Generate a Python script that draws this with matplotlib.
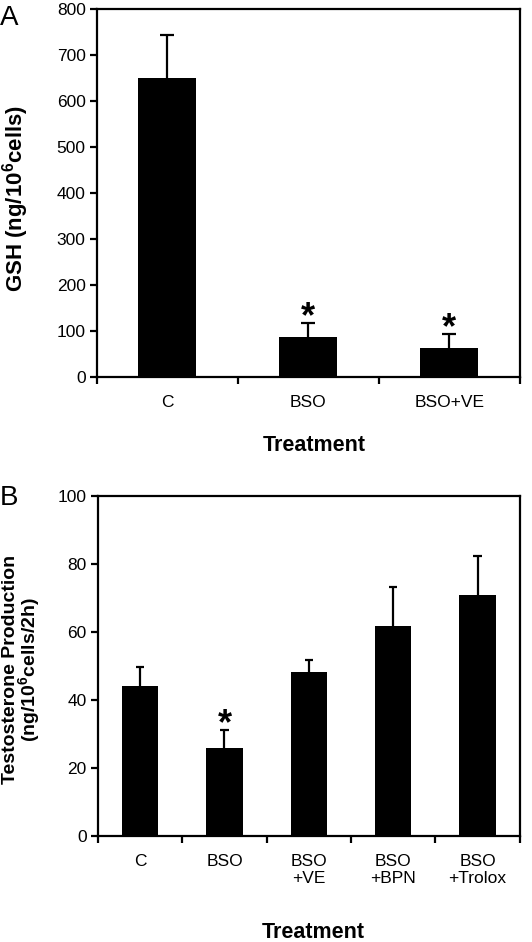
import numpy as np
import matplotlib.pyplot as plt

plt.rcParams['font.family'] = ['Liberation Sans', 'DejaVu Sans']
plt.rcParams['mathtext.fontset'] = 'custom'
plt.rcParams['mathtext.rm'] = 'Liberation Sans:bold'
plt.rcParams['mathtext.bf'] = 'Liberation Sans:bold'


# Panel A: GSH content
gsh_groups = ['C', 'BSO', 'BSO+VE']
gsh_mean = [650, 87, 63]
gsh_err = [95, 30, 30]
gsh_star = [False, True, True]

# Panel B: testosterone production
t_groups = ['C', 'BSO', 'BSO\n+VE', 'BSO\n+BPN', 'BSO\n+Trolox']
t_mean = [44.2, 25.8, 48.2, 61.8, 71.0]
t_err = [5.6, 5.3, 3.6, 11.4, 11.2]
t_star = [False, True, False, False, False]


def panel(ax, groups, mean, err, star, width, ymax, ystep):
    n = len(groups)
    x = np.arange(n)
    top = np.array(mean) + np.array(err)
    ax.bar(x, mean, width=width, color='black', linewidth=0, zorder=2)
    # upper error bars only
    ax.vlines(x, mean, top, color='black', linewidth=1.6, zorder=1)
    ax.hlines(top, x - 0.05, x + 0.05, color='black', linewidth=1.6, zorder=1)
    for xi, t, s in zip(x, top, star):
        if s:
            ax.annotate('*', (xi, t), xytext=(0, -3), textcoords='offset points',
                        ha='center', va='baseline', fontsize=26, fontweight='bold')
    ax.set_xlim(-0.5, n - 0.5)
    ax.set_ylim(0, ymax)
    ax.set_yticks(np.arange(0, ymax + 1, ystep))
    ax.set_xticks(np.arange(n + 1) - 0.5)
    ax.set_xticklabels([])
    ax.set_xticks(x, minor=True)
    ax.set_xticklabels(groups, minor=True)
    ax.tick_params(axis='x', which='major', direction='out', length=5, width=1.6)
    ax.tick_params(axis='x', which='minor', length=0, pad=13, labelsize=12.5)
    ax.tick_params(axis='y', direction='out', length=5, width=1.6, labelsize=12.5, pad=3)
    for sp in ax.spines.values():
        sp.set_linewidth(1.6)


fig = plt.figure(figsize=(5.32, 9.42), dpi=100)

axA = fig.add_axes([0.182, 0.600, 0.795, 0.390])
panel(axA, gsh_groups, gsh_mean, gsh_err, gsh_star, 0.41, 800, 100)
axA.set_ylabel(r'GSH (ng/10$^{6}$cells)', fontsize=16, fontweight='bold')
axA.yaxis.set_label_coords(-0.156, 0.486)
axA.set_xlabel('Treatment', fontsize=15.5, fontweight='bold')
axA.xaxis.set_label_coords(0.515, -0.158)
fig.text(0.0, 0.995, 'A', fontsize=20, ha='left', va='top')

axB = fig.add_axes([0.184, 0.1125, 0.793, 0.361])
panel(axB, t_groups, t_mean, t_err, t_star, 0.43, 100, 20)
# two-line y label, one text per line
fig.text(0.0275, 0.289, 'Testosterone Production', rotation=90,
         rotation_mode='anchor', ha='center', va='baseline',
         fontsize=14, fontweight='bold')
fig.text(0.0685, 0.289, r'(ng/10$^{6}$cells/2h)', rotation=90,
         rotation_mode='anchor', ha='center', va='baseline',
         fontsize=14, fontweight='bold')
axB.set_xlabel('Treatment', fontsize=15.5, fontweight='bold')
axB.xaxis.set_label_coords(0.51, -0.252)
fig.text(0.0, 0.485, 'B', fontsize=20, ha='left', va='top')

plt.savefig('out.png', dpi=100)
